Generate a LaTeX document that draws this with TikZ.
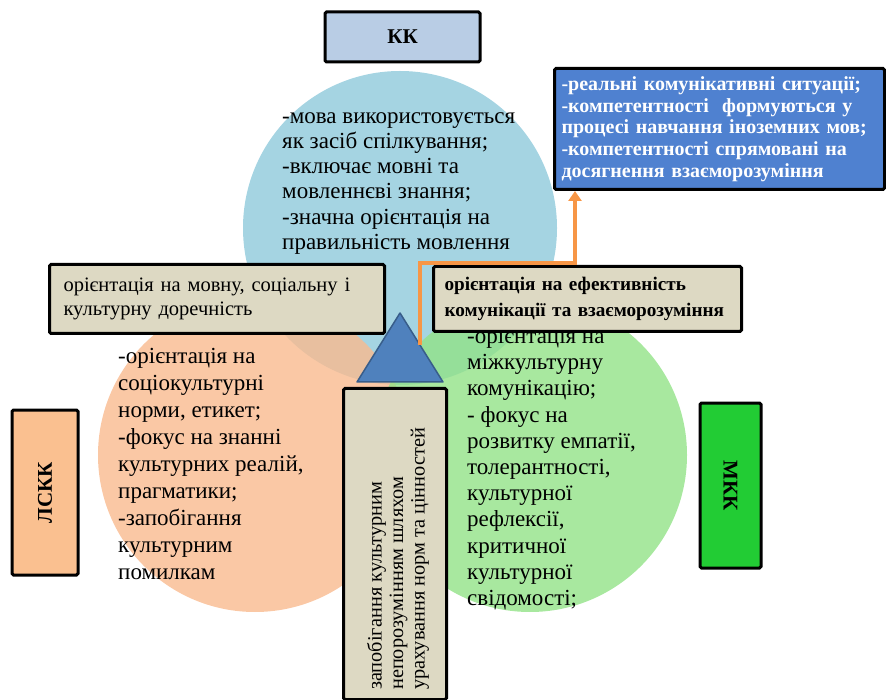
\documentclass[tikz,border=0pt]{standalone}
\usepackage{fontspec}
\setmainfont{Liberation Serif}
\usetikzlibrary{positioning,arrows.meta}

\definecolor{kkblue}{RGB}{165,212,226}
\definecolor{lsckpeach}{RGB}{249,186,143}
\definecolor{mkkgreen}{RGB}{146,226,135}
\definecolor{kkboxblue}{RGB}{185,205,229}
\definecolor{lsckboxpeach}{RGB}{250,192,144}
\definecolor{mkkboxgreen}{RGB}{34,204,52}
\definecolor{notebeige}{RGB}{221,217,195}
\definecolor{goalblue}{RGB}{79,129,208}
\definecolor{tripblue}{RGB}{79,129,189}
\definecolor{tripedge}{RGB}{56,93,138}
\definecolor{linkorange}{RGB}{247,150,70}

\begin{document}
\begin{tikzpicture}[x=1pt, y=-1pt,
    % Circle styles
    kkzone/.style={fill=kkblue},
    lsckzone/.style={fill=lsckpeach, fill opacity=0.8},
    mkkzone/.style={fill=mkkgreen, fill opacity=0.8},
    % Box styles
    namebox/.style={draw=black, line width=3pt, rounded corners=1.5pt, inner sep=0pt, font=\bfseries\fontsize{21}{24}\selectfont},
    notebox/.style={draw=black, line width=3pt, rounded corners=1.5pt, fill=notebeige, align=left, anchor=north west, inner xsep=14pt, font=\fontsize{20.5}{24}\selectfont},
    % Text styles
    zonetext/.style={align=left, anchor=north west, inner sep=0pt, font=\fontsize{23}{25.3}\selectfont},
    link/.style={draw=linkorange, line width=3.5pt, -{Triangle[length=10pt,width=13pt]}},
]
\useasboundingbox (0,0) rectangle (886,700);

% Circle centres
\coordinate (kk-center) at (400,228);
\coordinate (lsck-center) at (255,455);
\coordinate (mkk-center) at (530,455);
\def\radius{157}

% The three circles
\fill[kkzone] (kk-center) circle (\radius);
\fill[lsckzone] (lsck-center) circle (\radius);
\fill[mkkzone] (mkk-center) circle (\radius);

% Texts inside the circles
\node[zonetext] (kktext) at (282,112) {-мова використовується\\як засіб спілкування;\\-включає мовні та\\мовленнєві знання;\\-значна орієнтація на\\правильність мовлення};
\node[zonetext, font=\fontsize{23}{27}\selectfont] (lscktext) at (118,348) {-орієнтація на\\соціокультурні\\норми, етикет;\\-фокус на знанні\\культурних реалій,\\прагматики;\\-запобігання\\культурним\\помилкам};
\node[zonetext, font=\fontsize{23}{26.2}\selectfont] (mkktext) at (467,328) {-орієнтація на\\міжкультурну\\комунікацію;\\- фокус на\\розвитку емпатії,\\толерантності,\\культурної\\рефлексії,\\критичної\\культурної\\свідомості;};

% Notes between the circles
\node[notebox, minimum width=335pt, minimum height=69pt, text width=307pt] (lscknote) at (48,263) {орієнтація на мовну, соціальну і\\культурну доречність};
\node[notebox, minimum width=306pt, minimum height=65pt, text width=286pt, inner xsep=11pt, font=\bfseries\fontsize{19.2}{26}\selectfont] (mkknote) at (432,265) {орієнтація на ефективність\\комунікації та взаєморозуміння};

% Central triangle
\coordinate (apex) at (400,313);
\coordinate (baseright) at (443,382);
\coordinate (baseleft) at (357,382);
\draw[fill=tripblue, draw=tripedge, line width=1.5pt, line join=round] (apex) -- (baseright) -- (baseleft) -- cycle;

% Goal box and the link to it
\node[notebox, fill=goalblue, text=white, minimum width=330pt, minimum height=121pt, text width=316pt, inner xsep=7pt, font=\bfseries\fontsize{20}{21.7}\selectfont] (goal) at (553,67) {-реальні комунікативні ситуації;\\-компетентності\ \ формуються у\\процесі навчання іноземних мов;\\-компетентності спрямовані на\\досягнення взаєморозуміння};
\coordinate (linkstart) at (420,345);
\coordinate (linkturn) at (420,263);
\draw[link] (linkstart) -- (linkturn) -| ([xshift=22pt]goal.south west);

% Vertical note under the triangle
\node[notebox, minimum width=103pt, minimum height=311pt, inner sep=0pt] (centrenote) at (342,387) {};
\node[rotate=90, anchor=west, align=left, inner sep=0pt, font=\fontsize{20.3}{21.5}\selectfont] (centretext) at (398,690) {запобігання культурним\\непорозумінням шляхом\\урахування норм та цінностей};

% Name boxes
\node[namebox, fill=kkboxblue, minimum width=155pt, minimum height=50pt] (kkname) at (402.5,37) {КК};
\node[namebox, fill=lsckboxpeach, minimum width=66pt, minimum height=165pt] (lsckname) at (45,492.5) {};
\node[rotate=90, font=\bfseries\fontsize{21}{24}\selectfont] (lscklabel) at (lsckname.center) {ЛСКК};
\node[namebox, fill=mkkboxgreen, minimum width=61pt, minimum height=165pt] (mkkname) at (730.5,485.5) {};
\node[rotate=-90, font=\bfseries\fontsize{21}{24}\selectfont] (mkklabel) at (mkkname.center) {МКК};

\end{tikzpicture}
\end{document}
